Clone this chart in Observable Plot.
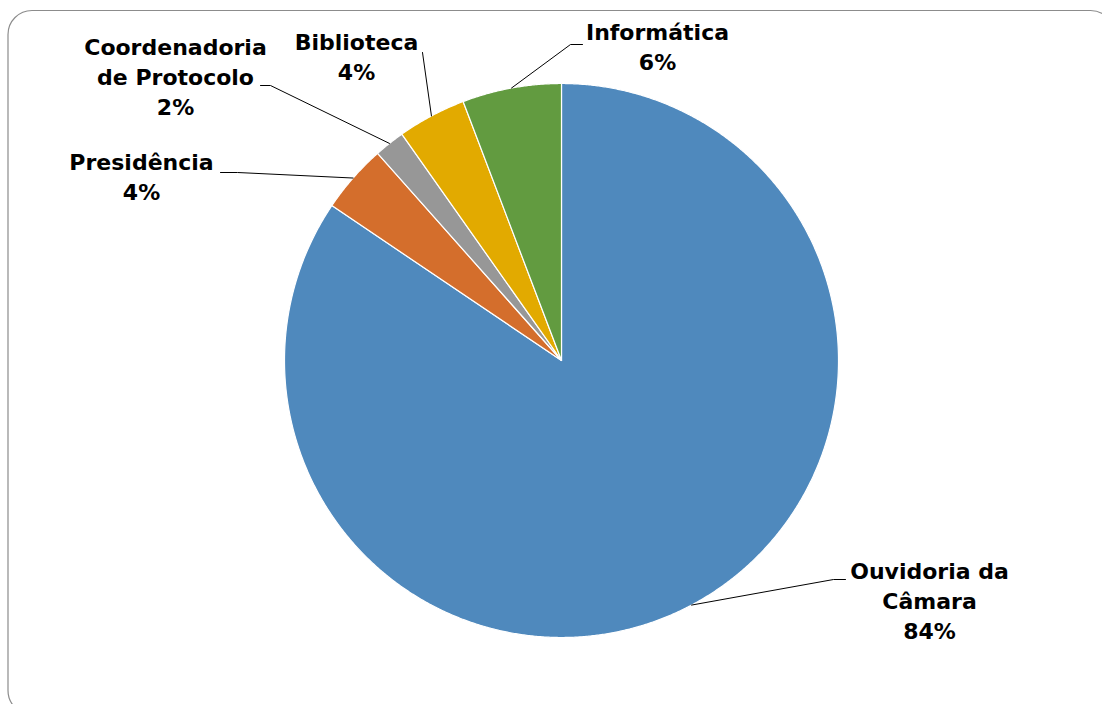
<!DOCTYPE html>
<html>
<head>
<meta charset="utf-8">
<script src="https://cdn.jsdelivr.net/npm/d3@7"></script>
<script src="https://cdn.jsdelivr.net/npm/@observablehq/plot@0.6"></script>
<style>
  html, body { margin: 0; padding: 0; background: #fff; }
  #chart svg { display: block; }
</style>
</head>
<body>
<div id="chart"></div>
<script>
// ---- data ----
const categories = ["Ouvidoria da\nCâmara", "Presidência", "Coordenadoria\nde Protocolo", "Biblioteca", "Informática"];
const counts = [190, 9, 4, 9, 13];
const colors = ["#4F89BD", "#D46E2C", "#979797", "#E2AA00", "#629B40"];

// ---- layout (label placement, pixel-like coordinates) ----
const labelPos = [
  {x: 929, y: 579}, {x: 141, y: 170}, {x: 175, y: 55}, {x: 356, y: 50}, {x: 657, y: 40}
];
const leaderBends = [
  [[833, 579], [845, 579]],
  [[237, 172], [220, 172]],
  [[270, 85], [260, 85]],
  [[422, 52]],
  [[570, 44], [582, 44]]
];

const W = 1102, H = 704;
const cx = 561, cy = 360, R = 277;
const total = d3.sum(counts);
const arcs = d3.pie().sort(null).value(d => d)(counts);

const pt = (a, r) => ({x: cx + r * Math.sin(a), y: cy - r * Math.cos(a)});

const marks = [];
// slices
arcs.forEach((a, i) => {
  const pts = [{x: cx, y: cy}];
  const n = Math.max(4, Math.ceil((a.endAngle - a.startAngle) / 0.005));
  for (let k = 0; k <= n; k++) {
    pts.push(pt(a.startAngle + (a.endAngle - a.startAngle) * k / n, R));
  }
  marks.push(Plot.line(pts, {x: "x", y: "y", curve: "linear-closed", fill: colors[i], stroke: "white", strokeWidth: 1.2, strokeLinejoin: "round"}));
});

// leader lines
arcs.forEach((a, i) => {
  const mid = (a.startAngle + a.endAngle) / 2;
  const pts = [pt(mid, R)].concat(leaderBends[i].map(([x, y]) => ({x, y})));
  marks.push(Plot.line(pts, {x: "x", y: "y", stroke: "black", strokeWidth: 1}));
});

// labels
const labels = categories.map((c, i) => ({
  text: c + "\n" + Math.round(counts[i] / total * 100) + "%",
  x: labelPos[i].x,
  y: labelPos[i].y - 22
}));
marks.push(Plot.text(labels, {
  x: "x", y: "y", text: "text", textAnchor: "middle", lineAnchor: "top",
  lineHeight: 30 / 22, fontSize: 22, fontWeight: "bold", fill: "black",
  fontFamily: "DejaVu Sans"
}));

// chart border
marks.push(Plot.frame({stroke: "#8c8c8c", strokeWidth: 1.2, rx: 24, insetLeft: 7.5, insetTop: 10, insetRight: -12, insetBottom: -10}));

const chart = Plot.plot({
  width: W, height: H,
  margin: 0,
  x: {domain: [0, W], range: [0, W], axis: null},
  y: {domain: [0, H], range: [0, H], axis: null},
  style: {background: "white", overflow: "hidden"},
  marks
});
document.getElementById("chart").appendChild(chart);
</script>
</body>
</html>
